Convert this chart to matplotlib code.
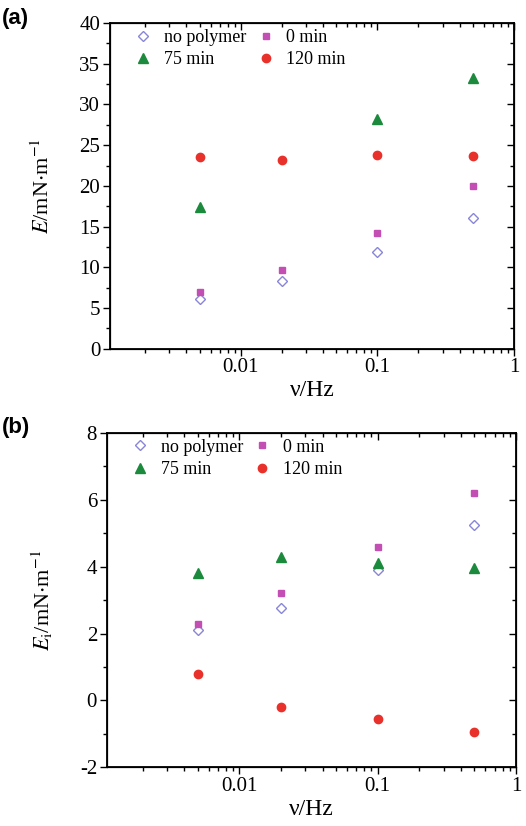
import matplotlib; matplotlib.use('Agg')
import matplotlib.pyplot as plt
import numpy as np
from matplotlib.ticker import FixedLocator, MultipleLocator, LogLocator, NullFormatter

plt.rcParams['font.family'] = ['Liberation Serif', 'DejaVu Serif']
plt.rcParams['mathtext.fontset'] = 'stix'
plt.rcParams['axes.unicode_minus'] = False

freq = [0.005, 0.02, 0.1, 0.5]
series_names = ['no polymer', '0 min', '75 min', '120 min']

# panel (a): E / mN m-1  (no visible 75 min point at 0.02 Hz)
E_nopoly = [6.1, 8.3, 11.9, 16.1]
E_0min = [6.9, 9.6, 14.2, 20.0]
E_75min = [17.4, np.nan, 28.2, 33.3]
E_120min = [23.6, 23.2, 23.8, 23.7]

# panel (b): Ei / mN m-1
Ei_nopoly = [2.1, 2.75, 3.9, 5.25]
Ei_0min = [2.3, 3.2, 4.6, 6.2]
Ei_75min = [3.8, 4.3, 4.1, 3.95]
Ei_120min = [0.8, -0.2, -0.55, -0.95]

styles = [
    dict(marker='D', mfc='none', mec='#8a86d6', ms=5, mew=1.0),
    dict(marker='s', mfc='#c44fb4', mec='#c44fb4', ms=4.5),
    dict(marker='^', mfc='#1b8a3c', mec='#1b8a3c', ms=6.5),
    dict(marker='o', mfc='#e8312a', mec='#e8312a', ms=6),
]

fig = plt.figure(figsize=(5.26, 8.26), dpi=100)
fig.patch.set_facecolor('white')

def panel(rect, data, ylim, major, minor, ylabel, tag):
    ax = fig.add_axes(rect)
    handles = []
    for vals, name, st in zip(data, series_names, styles):
        h, = ax.plot(freq, vals, ls='none', label=name, **st)
        handles.append(h)
    ax.set_xscale('log')
    ax.set_xlim(0.0011, 1.0)
    ax.set_ylim(*ylim)
    ax.xaxis.set_major_locator(FixedLocator([0.01, 0.1, 1]))
    ax.set_xticklabels(['0.01', '0.1', '1'])
    ax.xaxis.set_minor_locator(LogLocator(base=10, subs=np.arange(2, 10)))
    ax.xaxis.set_minor_formatter(NullFormatter())
    ax.yaxis.set_major_locator(MultipleLocator(major))
    ax.yaxis.set_minor_locator(MultipleLocator(minor))
    ax.tick_params(which='both', direction='out', labelsize=15, width=1.0, pad=2)
    ax.tick_params(which='major', length=5)
    ax.tick_params(which='minor', length=3)
    for s in ax.spines.values():
        s.set_linewidth(1.3)

    # mirrored ticks on top/right point inward
    axt = ax.twiny()
    axt.set_xscale('log')
    axt.set_xlim(ax.get_xlim())
    axt.xaxis.set_major_locator(FixedLocator([0.01, 0.1, 1]))
    axt.xaxis.set_minor_locator(LogLocator(base=10, subs=np.arange(2, 10)))
    axt.tick_params(which='both', direction='in', labeltop=False, width=1.0)
    axt.tick_params(which='major', length=5)
    axt.tick_params(which='minor', length=3)
    axr = ax.twinx()
    axr.set_ylim(*ylim)
    axr.yaxis.set_major_locator(MultipleLocator(major))
    axr.yaxis.set_minor_locator(MultipleLocator(minor))
    axr.tick_params(which='both', direction='in', labelright=False, width=1.0)
    axr.tick_params(which='major', length=5)
    axr.tick_params(which='minor', length=3)

    ax.set_xlabel('ν/Hz', fontsize=17, labelpad=2)
    ax.set_ylabel(ylabel, fontsize=16, labelpad=18)
    order = [0, 2, 1, 3]
    ax.legend([handles[i] for i in order], [series_names[i] for i in order],
              loc='upper left', ncol=2, frameon=False, fontsize=13,
              handletextpad=0.4, columnspacing=0.3, borderaxespad=0.1,
              labelspacing=0.3, handlelength=1.5, bbox_to_anchor=(0.027, 1.01))
    fig.text(0.004, rect[1] + rect[3] + 0.006, tag, fontsize=16, fontweight='bold',
             family='Liberation Sans', va='center')
    return ax

ax1 = panel([0.209, 0.578, 0.768, 0.394],
            [E_nopoly, E_0min, E_75min, E_120min],
            (0, 40), 5, 2.5, r'$E$/mN$\cdot$m$^{-1}$', '(a)')
ax2 = panel([0.203, 0.071, 0.778, 0.405],
            [Ei_nopoly, Ei_0min, Ei_75min, Ei_120min],
            (-2, 8), 2, 1, r'$E_{\rm i}$/mN$\cdot$m$^{-1}$', '(b)')

plt.savefig('out.png', dpi=100, facecolor='white')
